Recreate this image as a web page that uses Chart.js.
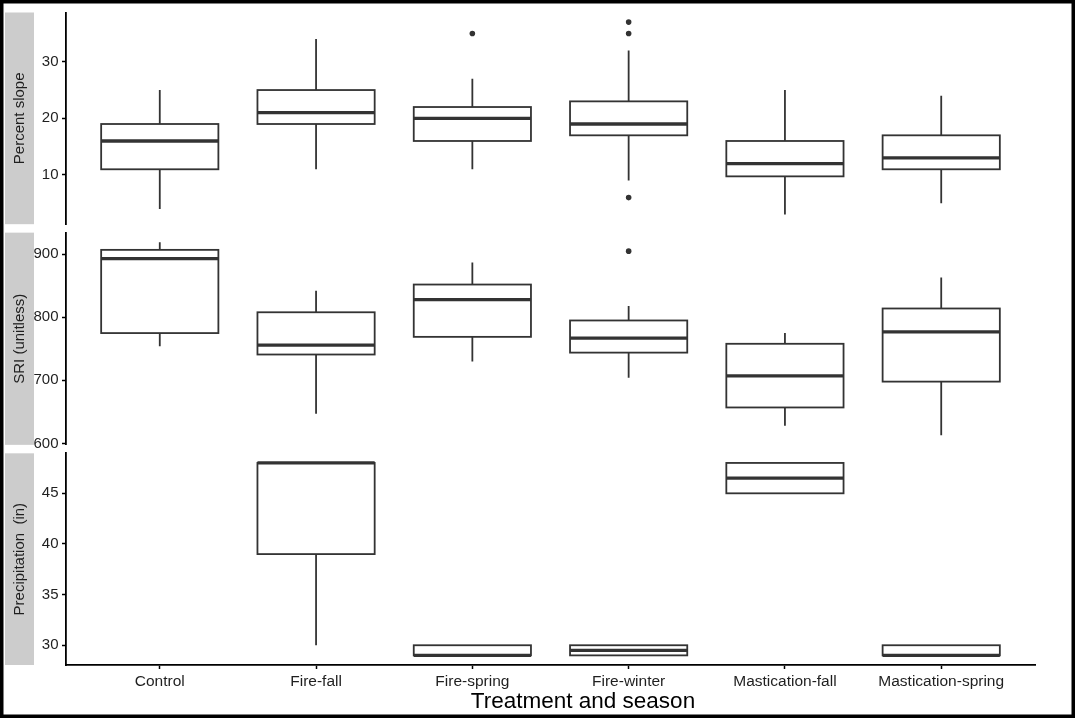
<!DOCTYPE html>
<html><head><meta charset="utf-8">
<script src="https://cdn.jsdelivr.net/npm/chart.js@4/dist/chart.umd.min.js"></script>
<style>html,body{margin:0;padding:0;background:#fff;}#wrap{width:1075px;height:718px;position:relative;}</style>
</head><body><div id="wrap"><canvas id="c" width="1075" height="718"></canvas></div>
<script>
// ---------- data ----------
const categories = ['Control','Fire-fall','Fire-spring','Fire-winter','Mastication-fall','Mastication-spring'];
const panelTitles = ['Percent slope','SRI (unitless)','Precipitation  (in)'];
const xTitle = 'Treatment and season';

// Percent slope
const slopeLow  = [4, 11, 11, 9, 3, 5];
const slopeQ1   = [11, 19, 16, 17, 9.75, 11];
const slopeMed  = [16, 21, 20, 19, 12, 13];
const slopeQ3   = [19, 25, 22, 23, 16, 17];
const slopeHigh = [25, 34, 27, 32, 25, 24];
const slopeOutlierCat = [2, 3, 3, 3];
const slopeOutlierVal = [35, 37, 35, 6];
const slopeTicks = [10, 20, 30];

// SRI
const sriLow  = [754, 647, 730, 704, 628, 613];
const sriQ1   = [775, 741, 769, 744, 657, 698];
const sriMed  = [893, 756, 828, 767, 707, 777];
const sriQ3   = [907, 808, 852, 795, 758, 814];
const sriHigh = [919, 842, 887, 818, 775, 863];
const sriOutlierCat = [3];
const sriOutlierVal = [905];
const sriTicks = [600, 700, 800, 900];

// Precipitation
const precLow  = [null, 30, 29, 29, 45, 29];
const precQ1   = [null, 39, 29, 29, 45, 29];
const precMed  = [null, 48, 29, 29.5, 46.5, 29];
const precQ3   = [null, 48, 30, 30, 48, 30];
const precHigh = [null, 48, 30, 30, 48, 30];
const precOutlierCat = [];
const precOutlierVal = [];
const precTicks = [30, 35, 40, 45];

// ---------- config ----------
const FONT = "'Liberation Sans', Arial, sans-serif";
const TEXT = '#1F1F1F';
const panels = [
  {axis:'y1', title:panelTitles[0], lo:slopeLow, q1:slopeQ1, med:slopeMed, q3:slopeQ3, hi:slopeHigh, oc:slopeOutlierCat, ov:slopeOutlierVal, ticks:slopeTicks, range:[1.3, 38.7]},
  {axis:'y2', title:panelTitles[1], lo:sriLow, q1:sriQ1, med:sriMed, q3:sriQ3, hi:sriHigh, oc:sriOutlierCat, ov:sriOutlierVal, ticks:sriTicks, range:[597.7, 934.3]},
  {axis:'y3', title:panelTitles[2], lo:precLow, q1:precQ1, med:precMed, q3:precQ3, hi:precHigh, oc:precOutlierCat, ov:precOutlierVal, ticks:precTicks, range:[28.05, 48.95]}
];

function yAxis(p, weight, order) {
  return {
    type:'linear', position:'left', stack:'panels', stackWeight:weight, weight:order,
    min:p.range[0], max:p.range[1],
    afterBuildTicks: s => { s.ticks = p.ticks.map(v => ({value:v})); },
    afterFit: s => { s.width = 66; },
    grid:{display:true, drawOnChartArea:false, drawTicks:true, tickLength:4, tickColor:'#000', tickWidth:1.5},
    border:{display:true, color:'#000', width:1.8},
    ticks:{color:TEXT, font:{family:FONT, size:15}, padding:3.5, autoSkip:false}
  };
}
function spacer(weight, order) {
  return {
    type:'linear', position:'left', stack:'panels', stackWeight:weight, weight:order,
    afterFit: s => { s.width = 66; },
    grid:{display:false}, border:{display:false}, ticks:{display:false}
  };
}

const boxPlugin = {
  id:'boxes',
  beforeDatasetsDraw(chart) {
    const ctx = chart.ctx, xs = chart.scales.x;
    const half = (xs.getPixelForValue(1) - xs.getPixelForValue(0)) * 0.75 / 2;
    ctx.save();
    ctx.strokeStyle = '#333333';
    panels.forEach(p => {
      const ys = chart.scales[p.axis];
      for (let i = 0; i < categories.length; i++) {
        if (p.q1[i] == null) continue;
        const cx = xs.getPixelForValue(i);
        const yLo = ys.getPixelForValue(p.lo[i]);
        const yQ1 = ys.getPixelForValue(p.q1[i]);
        const yMed = ys.getPixelForValue(p.med[i]);
        const yQ3 = ys.getPixelForValue(p.q3[i]);
        const yHi = ys.getPixelForValue(p.hi[i]);
        ctx.lineWidth = 1.8;
        ctx.beginPath();
        ctx.moveTo(cx, yHi); ctx.lineTo(cx, yQ3);
        ctx.moveTo(cx, yQ1); ctx.lineTo(cx, yLo);
        ctx.stroke();
        ctx.fillStyle = '#fff';
        ctx.fillRect(cx - half, yQ3, 2 * half, yQ1 - yQ3);
        ctx.strokeRect(cx - half, yQ3, 2 * half, yQ1 - yQ3);
        ctx.lineWidth = 3.3;
        ctx.beginPath();
        ctx.moveTo(cx - half, yMed); ctx.lineTo(cx + half, yMed);
        ctx.stroke();
      }
    });
    ctx.restore();
  }
};

const decoPlugin = {
  id:'deco',
  beforeDraw(chart) {
    const ctx = chart.ctx;
    ctx.save();
    ctx.fillStyle = '#fff';
    ctx.fillRect(0, 0, chart.width, chart.height);
    ctx.restore();
  },
  afterDraw(chart) {
    const ctx = chart.ctx;
    ctx.save();
    panels.forEach(p => {
      const ys = chart.scales[p.axis];
      ctx.fillStyle = '#CCCCCC';
      ctx.fillRect(5, ys.top, 29, ys.bottom - ys.top);
      ctx.save();
      ctx.translate(19.5, (ys.top + ys.bottom) / 2);
      ctx.rotate(-Math.PI / 2);
      ctx.fillStyle = TEXT;
      ctx.font = '15px ' + FONT;
      ctx.textAlign = 'center';
      ctx.textBaseline = 'middle';
      ctx.fillText(p.title, 0, 0);
      ctx.restore();
    });
    // x-axis title
    ctx.fillStyle = '#000';
    ctx.font = '22.5px ' + FONT;
    ctx.textAlign = 'center';
    ctx.textBaseline = 'middle';
    ctx.fillText(xTitle, 583, 702);
    // outer frame
    ctx.strokeStyle = '#000';
    ctx.lineWidth = 4;
    ctx.strokeRect(1.5, 1.5, chart.width - 3, chart.height - 3);
    ctx.restore();
  }
};

const scales = {
  x:{
    type:'linear', min:-0.6, max:5.6,
    afterBuildTicks: s => { s.ticks = categories.map((c, i) => ({value:i})); },
    afterFit: s => { s.height = 53; },
    ticks:{callback: v => categories[v], color:TEXT, font:{family:FONT, size:15.5}, padding:3, autoSkip:false, maxRotation:0},
    grid:{display:true, drawOnChartArea:false, drawTicks:true, tickLength:4, tickColor:'#000', tickWidth:1.5},
    border:{display:true, color:'#000', width:1.8},
    title:{display:false}
  },
  y1: yAxis(panels[0], 212.5, 5),
  g1: spacer(8.5, 4),
  y2: yAxis(panels[1], 213, 3),
  g2: spacer(8.5, 2),
  y3: yAxis(panels[2], 212.5, 1)
};

const datasets = panels.map(p => ({
  data: p.oc.map((c, i) => ({x:c, y:p.ov[i]})),
  yAxisID: p.axis, xAxisID:'x',
  pointRadius:2.8, pointBackgroundColor:'#333333', pointBorderWidth:0, showLine:false
}));

new Chart(document.getElementById('c'), {
  type:'scatter',
  data:{datasets},
  options:{
    responsive:false, animation:false, devicePixelRatio:1,
    layout:{padding:{top:8, right:40, bottom:0, left:0}},
    plugins:{legend:{display:false}, tooltip:{enabled:false}},
    scales
  },
  plugins:[boxPlugin, decoPlugin]
});
</script></body></html>
